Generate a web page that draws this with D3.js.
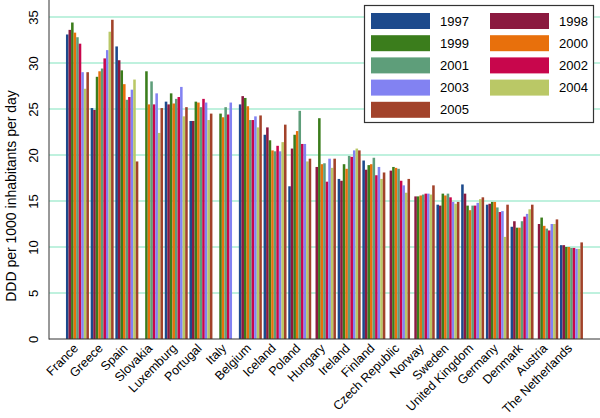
<!DOCTYPE html>
<html><head><meta charset="utf-8">
<script src="https://cdn.jsdelivr.net/npm/d3@7"></script>
<style>
body{margin:0;background:#fff;}
svg{display:block;font-family:"Liberation Sans",Arial,Helvetica,sans-serif;}
</style></head>
<body><svg id="c" width="600" height="418"></svg>
<script>
const countries = ["France","Greece","Spain","Slovakia","Luxemburg","Portugal","Italy","Belgium","Iceland","Poland","Hungary","Ireland","Finland","Czech Republic","Norway","Sweden","United Kingdom","Germany","Denmark","Austria","The Netherlands"];
const years = ["1997","1998","1999","2000","2001","2002","2003","2004","2005"];
const v1997 = [33.1,25.1,31.8,null,25.8,23.7,null,25.5,22.2,16.6,null,17.4,19.4,null,null,14.6,16.8,14.6,12.2,null,10.2];
const v1998 = [33.6,24.9,30.3,null,25.5,23.7,null,26.4,23.0,20.7,18.7,17.2,18.4,18.3,15.5,14.5,15.8,14.7,12.8,12.5,10.2];
const v1999 = [34.4,28.5,29.2,29.1,26.7,25.8,24.5,26.2,21.6,22.2,24.0,19.0,18.9,18.7,15.5,15.8,14.5,14.9,12.1,13.2,10.0];
const v2000 = [33.3,29.1,27.7,25.5,25.6,25.7,24.1,25.3,20.5,22.6,19.0,18.5,19.0,18.6,15.6,15.6,14.0,14.9,12.1,12.3,10.0];
const v2001 = [32.8,29.4,26.0,28.0,26.1,25.2,25.2,23.8,20.4,24.8,19.1,19.9,19.7,18.5,15.7,15.8,14.5,14.3,12.8,12.0,9.9];
const v2002 = [32.1,30.5,26.3,25.5,26.3,26.1,24.4,23.8,21.0,21.2,17.1,19.8,17.8,17.2,15.8,15.4,14.5,13.8,13.3,11.8,9.9];
const v2003 = [29.0,31.4,27.1,26.7,27.4,25.7,25.7,24.2,20.4,21.2,19.6,20.5,18.7,16.7,15.8,14.9,14.8,13.9,13.6,12.5,9.8];
const v2004 = [27.2,33.4,28.2,22.4,24.2,23.8,null,23.0,21.4,19.3,18.6,20.7,17.4,15.9,15.7,14.7,15.2,11.1,14.1,12.5,9.8];
const v2005 = [29.0,34.7,19.3,25.1,25.2,24.5,null,24.3,23.3,19.6,19.6,20.5,18.1,17.4,16.7,14.9,15.4,14.6,14.6,13.0,10.5];
const yTicks = [0,5,10,15,20,25,30,35];
const yTitle = "DDD per 1000 inhabitants per day";
const colors = ["#1c4a8c","#8b1a40","#3b7d1c","#e8700c","#5e9e7a","#c8064c","#8282f2","#bac866","#a2422a"];

const series = [v1997,v1998,v1999,v2000,v2001,v2002,v2003,v2004,v2005];
const svg = d3.select("#c");
const L = 49, R = 600, B = 339;

const x0 = d3.scaleBand().domain(countries).range([65.1, 583.8]).paddingInner(0.07).paddingOuter(0.035);
const x1 = d3.scaleBand().domain(years).range([0, x0.bandwidth()]);
const y = d3.scaleLinear().domain([0, 35]).range([B, 17]);
const color = d3.scaleOrdinal().domain(years).range(colors);

// gridlines
svg.append("g").selectAll("rect").data(yTicks.slice(1)).join("rect")
  .attr("x", L).attr("width", R - L)
  .attr("y", d => Math.round(y(d)) - 1).attr("height", 2)
  .attr("fill", "#bff1de");

// bars
const rows = [];
countries.forEach((c, i) => years.forEach((yr, j) => {
  const v = series[j][i];
  if (v != null) rows.push({c, yr, v});
}));
svg.append("g").selectAll("rect").data(rows).join("rect")
  .attr("x", d => x0(d.c) + x1(d.yr))
  .attr("width", x1.bandwidth())
  .attr("y", d => y(d.v))
  .attr("height", d => B - y(d.v))
  .attr("fill", d => color(d.yr));

// axes
const yAxis = d3.axisLeft(y).tickValues(yTicks).tickSize(0).tickPadding(0);
const gy = svg.append("g").attr("transform", `translate(${L},0)`).call(yAxis);
gy.select(".domain").remove();
gy.selectAll("text").attr("font-size", 13).attr("fill", "#000")
  .attr("text-anchor", "middle").attr("dy", null)
  .attr("x", 0).attr("y", 0)
  .attr("transform", "translate(-11,0) rotate(-90)");
svg.append("line").attr("x1", L).attr("x2", L).attr("y1", 0).attr("y2", B + 0.5)
  .attr("stroke", "#333").attr("stroke-width", 1);

const xAxis = d3.axisBottom(x0).tickSize(0);
const gx = svg.append("g").attr("transform", `translate(0,${B})`).call(xAxis);
gx.select(".domain").remove();
gx.selectAll("text").attr("font-size", 12.5).attr("fill", "#000")
  .attr("text-anchor", "end").attr("dy", null).attr("y", 0).attr("x", 0)
  .attr("transform", "translate(1.5,10) rotate(-45)");
svg.append("line").attr("x1", L).attr("x2", R).attr("y1", B).attr("y2", B)
  .attr("stroke", "#333").attr("stroke-width", 1);

// y title
svg.append("text").attr("transform", "translate(16,196) rotate(-90)")
  .attr("text-anchor", "middle").attr("font-size", 14).text(yTitle);

// legend
const lg = svg.append("g");
lg.append("rect").attr("x", 364.5).attr("y", 5.5).attr("width", 229).attr("height", 117)
  .attr("fill", "#fff").attr("stroke", "#333").attr("stroke-width", 1.2);
years.forEach((yr, i) => {
  const col = i % 2, row = Math.floor(i / 2);
  const sx = col ? 490 : 371, cy = 21 + row * 22.2;
  lg.append("rect").attr("x", sx).attr("y", cy - 8).attr("width", 59).attr("height", 16).attr("fill", color(yr));
  lg.append("text").attr("x", sx + 69).attr("y", cy).attr("dy", "0.36em").attr("font-size", 13).text(yr);
});
</script></body></html>
